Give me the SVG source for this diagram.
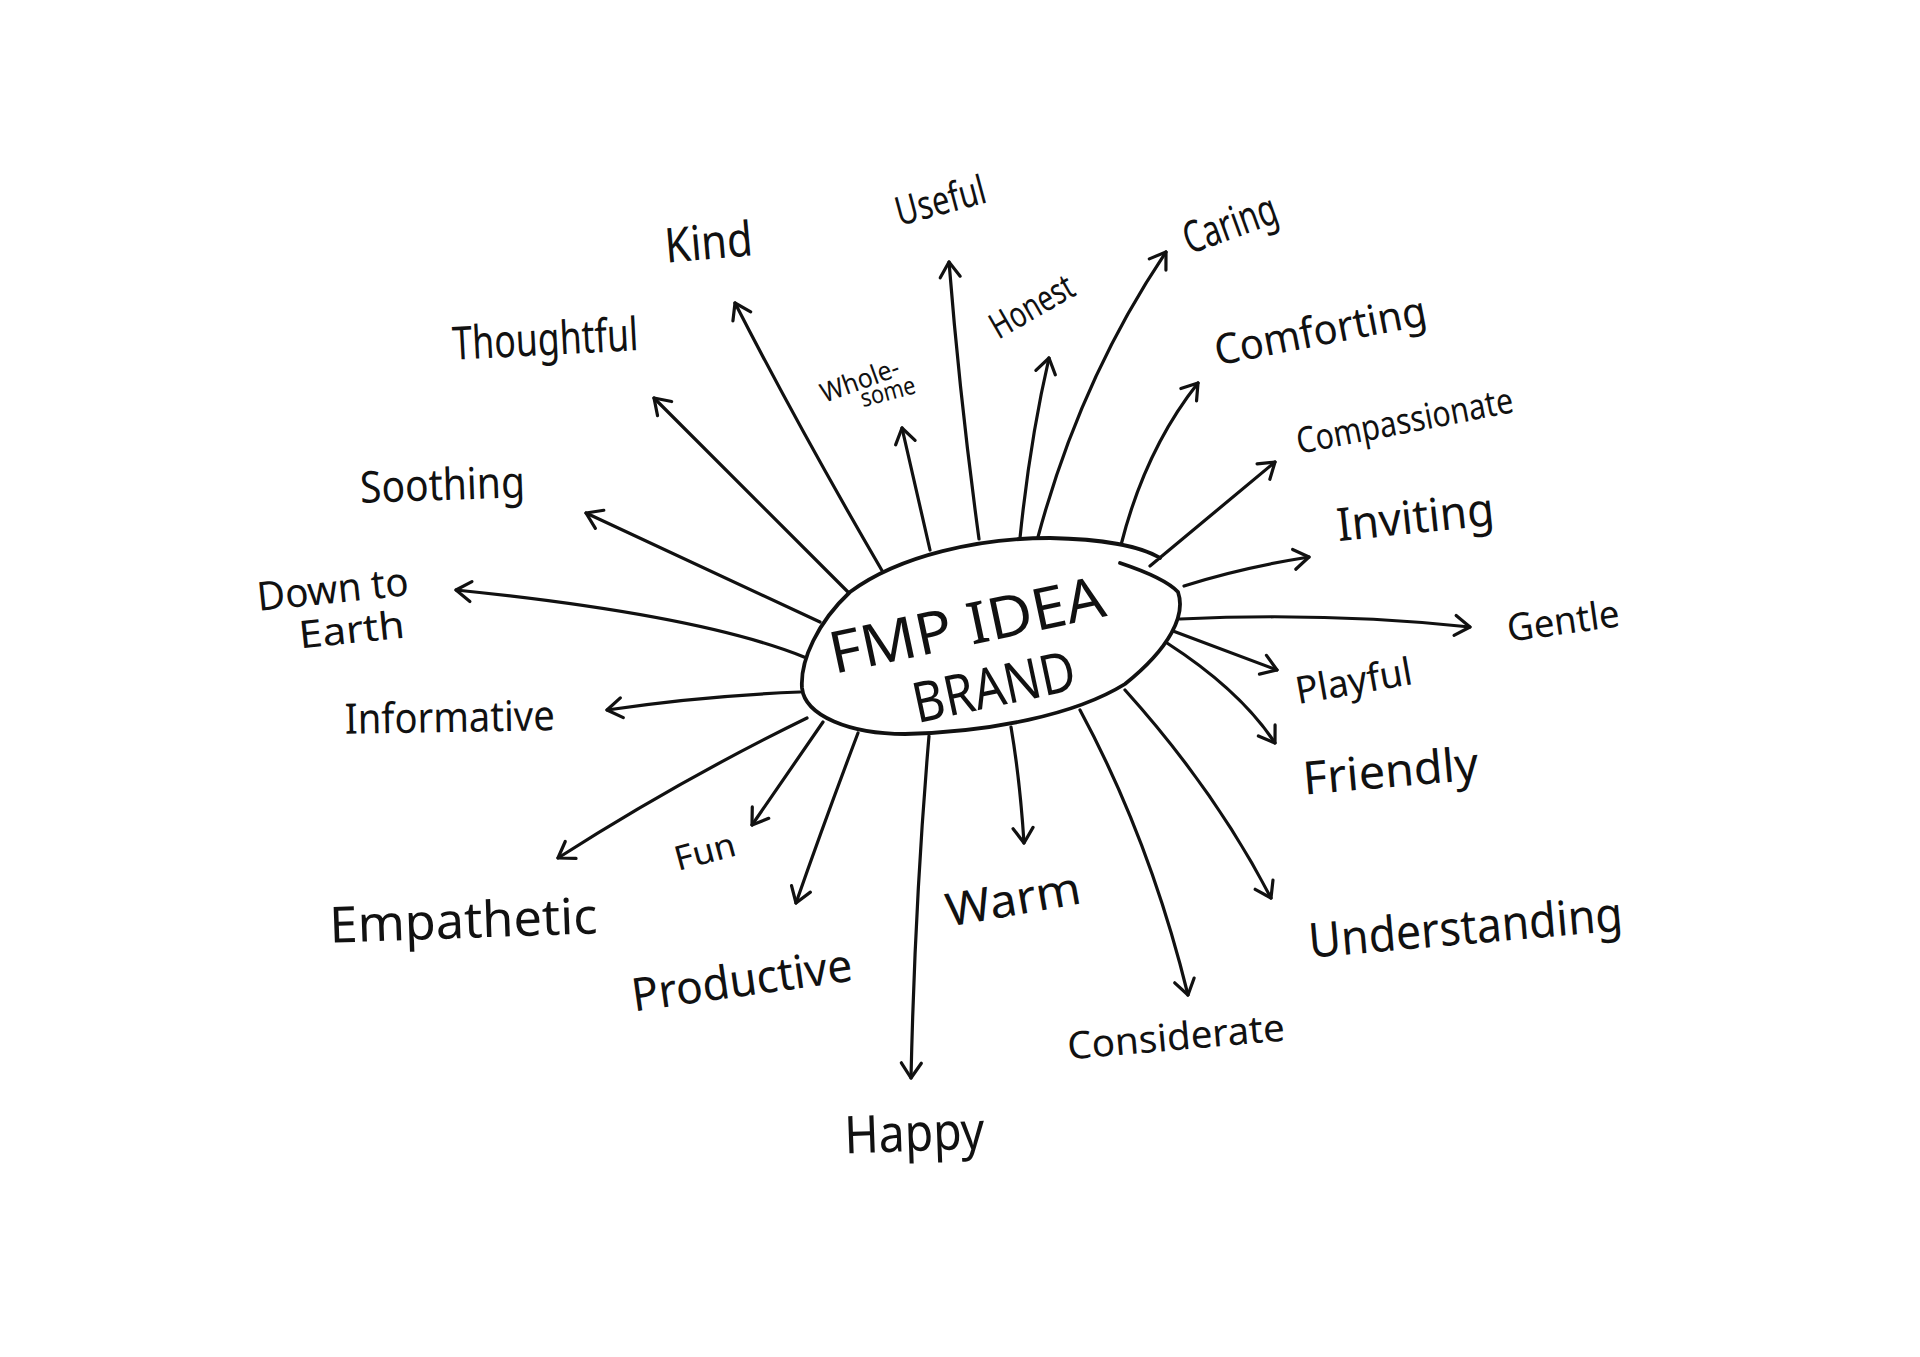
<svg xmlns="http://www.w3.org/2000/svg" width="1920" height="1357" viewBox="0 0 1920 1357">
<style>
.lbl{font-family:"Noto Sans","Liberation Sans",sans-serif;fill:#111;text-anchor:middle}
.conn{fill:none;stroke:#111;stroke-width:3.2;stroke-linecap:round;stroke-linejoin:round;marker-end:url(#arr)}
.blob{fill:#fff;stroke:#111;stroke-width:3.8;stroke-linecap:round;stroke-linejoin:round}
</style>
<defs>
<marker id="arr" viewBox="-20 -14 24 28" markerWidth="24" markerHeight="28" refX="0" refY="0" orient="auto" markerUnits="userSpaceOnUse" overflow="visible">
<path d="M -15 -10 L 0 0 L -15 10" fill="none" stroke="#111" stroke-width="3.2" stroke-linecap="round" stroke-linejoin="round"/>
</marker>
</defs>
<rect width="1920" height="1357" fill="#fff"/>
<g id="connectors">
<path class="conn" d="M 850 594 L 654 398"/>
<path class="conn" d="M 884 574 Q 800 430 735 303"/>
<path class="conn" d="M 930 550 L 902 428"/>
<path class="conn" d="M 979 539 Q 960 400 949 262"/>
<path class="conn" d="M 1020 538 Q 1030 440 1049 358"/>
<path class="conn" d="M 1038 537 Q 1080 380 1166 252"/>
<path class="conn" d="M 1121 545 Q 1145 450 1198 383"/>
<path class="conn" d="M 1150 566 L 1275 462"/>
<path class="conn" d="M 1184 586 Q 1240 568 1309 557"/>
<path class="conn" d="M 1180 619 Q 1330 612 1470 627"/>
<path class="conn" d="M 1173 631 L 1277 670"/>
<path class="conn" d="M 1167 643 Q 1240 690 1275 743"/>
<path class="conn" d="M 1125 690 Q 1215 790 1271 898"/>
<path class="conn" d="M 1080 710 Q 1150 840 1188 995"/>
<path class="conn" d="M 1011 727 Q 1020 780 1024 843"/>
<path class="conn" d="M 929 736 Q 915 900 911 1078"/>
<path class="conn" d="M 858 733 Q 825 820 796 903"/>
<path class="conn" d="M 823 722 L 752 825"/>
<path class="conn" d="M 807 718 Q 680 780 558 858"/>
<path class="conn" d="M 800 692 Q 700 696 607 710"/>
<path class="conn" d="M 804 657 Q 700 615 456 590"/>
<path class="conn" d="M 820 622 L 586 513"/>
</g>
<g id="center">
<path class="blob" d="M 1160 558 C 1140 546, 1100 539, 1050 538 C 980 538, 900 555, 850 592 C 818 622, 800 660, 802 688 C 805 716, 850 734, 905 734 C 990 732, 1075 715, 1125 684 C 1170 648, 1186 615, 1178 592 Q 1165 578 1120 563"/>
<text class="lbl" x="971" y="645" font-size="58" textLength="280" lengthAdjust="spacingAndGlyphs" transform="rotate(-12 971 645)">FMP IDEA</text>
<text class="lbl" x="998" y="706" font-size="56" textLength="165" lengthAdjust="spacingAndGlyphs" transform="rotate(-12 998 706)">BRAND</text>
</g>
<g id="thoughtful"><text class="lbl" x="546" y="355" font-size="46" textLength="186" lengthAdjust="spacingAndGlyphs" transform="rotate(-3 546 355)">Thoughtful</text></g>
<g id="kind"><text class="lbl" x="710" y="259" font-size="48" textLength="88" lengthAdjust="spacingAndGlyphs" transform="rotate(-5 710 259)">Kind</text></g>
<g id="useful"><text class="lbl" x="944" y="214" font-size="40" textLength="92" lengthAdjust="spacingAndGlyphs" transform="rotate(-15 944 214)">Useful</text></g>
<g id="caring"><text class="lbl" x="1235" y="238" font-size="44" textLength="97" lengthAdjust="spacingAndGlyphs" transform="rotate(-20 1235 238)">Caring</text></g>
<g id="honest"><text class="lbl" x="1038" y="317" font-size="36" textLength="91" lengthAdjust="spacingAndGlyphs" transform="rotate(-30 1038 317)">Honest</text></g>
<g id="wholesome">
<text class="lbl" x="863" y="389" font-size="27" textLength="82" lengthAdjust="spacingAndGlyphs" transform="rotate(-20 863 389)">Whole-</text>
<text class="lbl" x="890" y="400" font-size="25" textLength="56" lengthAdjust="spacingAndGlyphs" transform="rotate(-15 890 400)">some</text>
</g>
<g id="comforting"><text class="lbl" x="1323" y="345" font-size="42" textLength="215" lengthAdjust="spacingAndGlyphs" transform="rotate(-11 1323 345)">Comforting</text></g>
<g id="compassionate"><text class="lbl" x="1407" y="433" font-size="36" textLength="220" lengthAdjust="spacingAndGlyphs" transform="rotate(-11 1407 433)">Compassionate</text></g>
<g id="soothing"><text class="lbl" x="443" y="500" font-size="44" textLength="165" lengthAdjust="spacingAndGlyphs" transform="rotate(-2 443 500)">Soothing</text></g>
<g id="inviting"><text class="lbl" x="1417" y="533" font-size="46" textLength="158" lengthAdjust="spacingAndGlyphs" transform="rotate(-6 1417 533)">Inviting</text></g>
<g id="downtoearth">
<text class="lbl" x="334" y="603" font-size="40" textLength="152" lengthAdjust="spacingAndGlyphs" transform="rotate(-6 334 603)">Down to</text>
<text class="lbl" x="353" y="643" font-size="38" textLength="106" lengthAdjust="spacingAndGlyphs" transform="rotate(-6 353 643)">Earth</text>
</g>
<g id="gentle"><text class="lbl" x="1565" y="634" font-size="38" textLength="113" lengthAdjust="spacingAndGlyphs" transform="rotate(-8 1565 634)">Gentle</text></g>
<g id="informative"><text class="lbl" x="450" y="732" font-size="42" textLength="210" lengthAdjust="spacingAndGlyphs" transform="rotate(-1 450 732)">Informative</text></g>
<g id="playful"><text class="lbl" x="1356" y="694" font-size="38" textLength="118" lengthAdjust="spacingAndGlyphs" transform="rotate(-10 1356 694)">Playful</text></g>
<g id="friendly"><text class="lbl" x="1392" y="787" font-size="46" textLength="176" lengthAdjust="spacingAndGlyphs" transform="rotate(-5 1392 787)">Friendly</text></g>
<g id="fun"><text class="lbl" x="708" y="863" font-size="34" textLength="62" lengthAdjust="spacingAndGlyphs" transform="rotate(-15 708 863)">Fun</text></g>
<g id="empathetic"><text class="lbl" x="464" y="938" font-size="50" textLength="268" lengthAdjust="spacingAndGlyphs" transform="rotate(-2 464 938)">Empathetic</text></g>
<g id="warm"><text class="lbl" x="1016" y="915" font-size="46" textLength="136" lengthAdjust="spacingAndGlyphs" transform="rotate(-10 1016 915)">Warm</text></g>
<g id="productive"><text class="lbl" x="744" y="996" font-size="46" textLength="222" lengthAdjust="spacingAndGlyphs" transform="rotate(-8 744 996)">Productive</text></g>
<g id="understanding"><text class="lbl" x="1467" y="944" font-size="48" textLength="315" lengthAdjust="spacingAndGlyphs" transform="rotate(-5 1467 944)">Understanding</text></g>
<g id="considerate"><text class="lbl" x="1177" y="1050" font-size="38" textLength="218" lengthAdjust="spacingAndGlyphs" transform="rotate(-5 1177 1050)">Considerate</text></g>
<g id="happy"><text class="lbl" x="915" y="1151" font-size="52" textLength="140" lengthAdjust="spacingAndGlyphs" transform="rotate(-2 915 1151)">Happy</text></g>
</svg>
